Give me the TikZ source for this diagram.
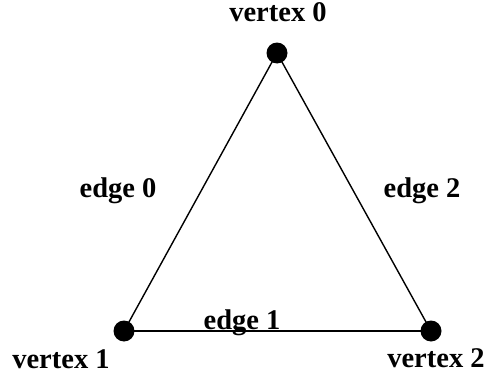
\documentclass[tikz,border=0pt]{standalone}
\usepackage{fontspec}
\setmainfont{Liberation Serif}
\begin{document}
\begin{tikzpicture}[x=1pt,y=1pt,
  vtx/.style={circle,fill=black,inner sep=0pt,minimum size=21pt},
  lbl/.style={font=\fontsize{28.5}{32}\selectfont\bfseries,inner sep=0pt,anchor=base},
  edgeline/.style={line width=1.4pt}]
\useasboundingbox (0,0) rectangle (488,376);
\node[vtx] (v0) at (277,323) {};
\node[vtx] (v1) at (124,45) {};
\node[vtx] (v2) at (431,45) {};
\draw[edgeline] (v0.center) -- (v1.center);
\draw[edgeline] (v0.center) -- (v2.center);
\draw[edgeline] (v1.center) -- (v2.center);
\node[lbl] (t0) at (278,355) {vertex 0};
\node[lbl] (t1) at (61,8) {vertex 1};
\node[lbl] (t2) at (436,9) {vertex 2};
\node[lbl] (e0) at (118,179) {edge 0};
\node[lbl] (e1) at (242,47) {edge 1};
\node[lbl] (e2) at (422,179) {edge 2};
\end{tikzpicture}
\end{document}
